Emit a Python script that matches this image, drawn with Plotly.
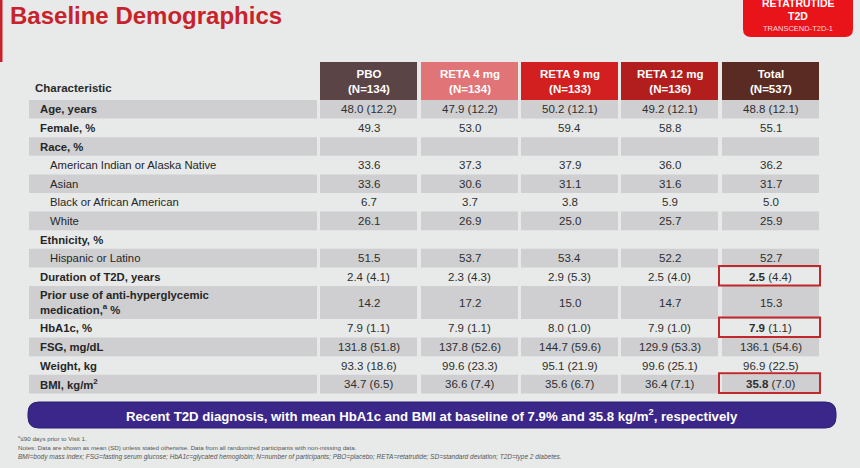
import plotly.graph_objects as go

# table content
labels = ["Age, years", "Female, %", "Race, %", "American Indian or Alaska Native", "Asian",
          "Black or African American", "White", "Ethnicity, %", "Hispanic or Latino",
          "Duration of T2D, years", "Prior use of anti-hyperglycemic<br>medication,<sup>a</sup> %",
          "HbA1c, %", "FSG, mg/dL", "Weight, kg", "BMI, kg/m<sup>2</sup>"]
indent = [0, 0, 0, 1, 1, 1, 1, 0, 1, 0, 0, 0, 0, 0, 0]

groups = ["PBO", "RETA 4 mg", "RETA 9 mg", "RETA 12 mg", "Total"]
group_n = [134, 134, 133, 136, 537]

pbo = ["48.0 (12.2)", "49.3", "", "33.6", "33.6", "6.7", "26.1", "", "51.5", "2.4 (4.1)", "14.2",
       "7.9 (1.1)", "131.8 (51.8)", "93.3 (18.6)", "34.7 (6.5)"]
reta4 = ["47.9 (12.2)", "53.0", "", "37.3", "30.6", "3.7", "26.9", "", "53.7", "2.3 (4.3)", "17.2",
         "7.9 (1.1)", "137.8 (52.6)", "99.6 (23.3)", "36.6 (7.4)"]
reta9 = ["50.2 (12.1)", "59.4", "", "37.9", "31.1", "3.8", "25.0", "", "53.4", "2.9 (5.3)", "15.0",
         "8.0 (1.0)", "144.7 (59.6)", "95.1 (21.9)", "35.6 (6.7)"]
reta12 = ["49.2 (12.1)", "58.8", "", "36.0", "31.6", "5.9", "25.7", "", "52.2", "2.5 (4.0)", "14.7",
          "7.9 (1.0)", "129.9 (53.3)", "99.6 (25.1)", "36.4 (7.1)"]
total = ["48.8 (12.1)", "55.1", "", "36.2", "31.7", "5.0", "25.9", "", "52.7", "2.5 (4.4)", "15.3",
         "7.9 (1.1)", "136.1 (54.6)", "96.9 (22.5)", "35.8 (7.0)"]
columns = [pbo, reta4, reta9, reta12, total]

highlight = [9, 11, 14]  # rows boxed in the Total column

banner = ("Recent T2D diagnosis, with mean HbA1c and BMI at baseline of 7.9% "
          "and 35.8 kg/m<sup>2</sup>, respectively")
footnotes = ["<sup>a</sup>≤90 days prior to Visit 1.",
             "Notes: Data are shown as mean (SD) unless stated otherwise. Data from all randomized participants with non-missing data.",
             "<i>BMI=body mass index; FSG=fasting serum glucose; HbA1c=glycated hemoglobin; N=number of participants; "
             "PBO=placebo; RETA=retatrutide; SD=standard deviation; T2D=type 2 diabetes.</i>"]

# layout geometry (pixel-like axes)
W, H = 860, 468
lab_x0, lab_x1 = 29, 317
col_x0 = [320, 421, 521, 621, 722]
col_w = 97
head_y0, head_y1 = 62, 100
row_h = [18.6] * len(labels)
row_h[10] = 33
head_colors = ["#5a4446", "#e07476", "#d21f20", "#b21e1d", "#5a2b22"]
band = "#cfcfd2"
bg = "#e7eae9"
FONT = "Liberation Sans, Arial, sans-serif"


def rpath(x0, y0, x1, y1, r):
    return (f"M{x0+r},{y0} L{x1-r},{y0} Q{x1},{y0} {x1},{y0+r} L{x1},{y1-r} Q{x1},{y1} {x1-r},{y1} "
            f"L{x0+r},{y1} Q{x0},{y1} {x0},{y1-r} L{x0},{y0+r} Q{x0},{y0} {x0+r},{y0} Z")


shapes = []
ann = []

# header cells
for i, g in enumerate(groups):
    shapes.append(dict(type="rect", x0=col_x0[i], x1=col_x0[i] + col_w, y0=head_y0, y1=head_y1,
                       fillcolor=head_colors[i], line_width=0, layer="below"))
    ann.append(dict(x=col_x0[i] + col_w / 2, y=(head_y0 + head_y1) / 2,
                    text=f"<b>{g}<br>(N={group_n[i]})</b>", showarrow=False,
                    font=dict(color="white", size=11.5, family=FONT)))
ann.append(dict(x=33, y=88, text="<b>Characteristic</b>", showarrow=False, xanchor="left",
                font=dict(color="#2a2a2a", size=11.5, family=FONT)))

# body rows
y = head_y1
for r, lab in enumerate(labels):
    y0, y1 = y, y + row_h[r]
    ym = (y0 + y1) / 2
    if r % 2 == 0:
        shapes.append(dict(type="rect", x0=lab_x0, x1=lab_x1, y0=y0, y1=y1,
                           fillcolor=band, line_width=0, layer="below"))
        for c in range(5):
            shapes.append(dict(type="rect", x0=col_x0[c], x1=col_x0[c] + col_w, y0=y0, y1=y1,
                               fillcolor=band, line_width=0, layer="below"))
    txt = lab if indent[r] else f"<b>{lab}</b>"
    ann.append(dict(x=38 + 10 * indent[r], y=ym, text=txt, showarrow=False, xanchor="left",
                    align="left", font=dict(color="#262626", size=11.3, family=FONT)))
    for c in range(5):
        v = columns[c][r]
        if not v:
            continue
        if c == 4 and r in highlight:
            a, _, b = v.partition(" ")
            v = f"<b>{a}</b> {b}"
            shapes.append(dict(type="rect", x0=col_x0[c] - 3, x1=col_x0[c] + col_w + 1,
                               y0=y0 - 1.5, y1=y1 - 0.5, line=dict(color="#c0282b", width=2)))
        ann.append(dict(x=col_x0[c] + col_w / 2, y=ym, text=v, showarrow=False,
                        font=dict(color="#2e2e2e", size=11.5, family=FONT)))
    y = y1

# title
ann.append(dict(x=8, y=15, text="<b>Baseline Demographics</b>", showarrow=False, xanchor="left",
                font=dict(color="#c8232b", size=24, family=FONT)))
shapes.append(dict(type="rect", x0=0, x1=2.5, y0=0, y1=62, fillcolor="#c8232b", line_width=0))

# badge
shapes.append(dict(type="path", path=rpath(743, -12, 853, 37, 8), fillcolor="#e8141a", line_width=0))
ann.append(dict(x=798, y=3, text="<b>RETATRUTIDE</b>", showarrow=False,
                font=dict(color="white", size=10.5, family=FONT)))
ann.append(dict(x=798, y=16, text="<b>T2D</b>", showarrow=False,
                font=dict(color="white", size=10.5, family=FONT)))
ann.append(dict(x=798, y=28, text="TRANSCEND-T2D-1", showarrow=False,
                font=dict(color="#ffd9d9", size=7.5, family=FONT)))

# banner
shapes.append(dict(type="path", path=rpath(28, 402, 836, 428, 11), fillcolor="#3b2789",
                   line=dict(color="#2c1d6e", width=1)))
ann.append(dict(x=432, y=415, text=f"<b>{banner}</b>", showarrow=False,
                font=dict(color="white", size=13.2, family=FONT)))

# footnotes
for i, f in enumerate(footnotes):
    ann.append(dict(x=16, y=438 + 9.5 * i, text=f, showarrow=False, xanchor="left",
                    font=dict(color="#555555", size=6.2 if i < 2 else 6.5, family=FONT)))

fig = go.Figure()
fig.update_layout(
    width=W, height=H, margin=dict(l=0, r=0, t=0, b=0),
    paper_bgcolor=bg, plot_bgcolor=bg, showlegend=False,
    xaxis=dict(range=[0, W], visible=False, fixedrange=True),
    yaxis=dict(range=[H, 0], visible=False, fixedrange=True),
    shapes=shapes, annotations=ann,
)
fig.write_html("out.html", config={"displayModeBar": False},
               post_script="document.body.style.margin='0';document.body.style.background='%s';" % bg)
